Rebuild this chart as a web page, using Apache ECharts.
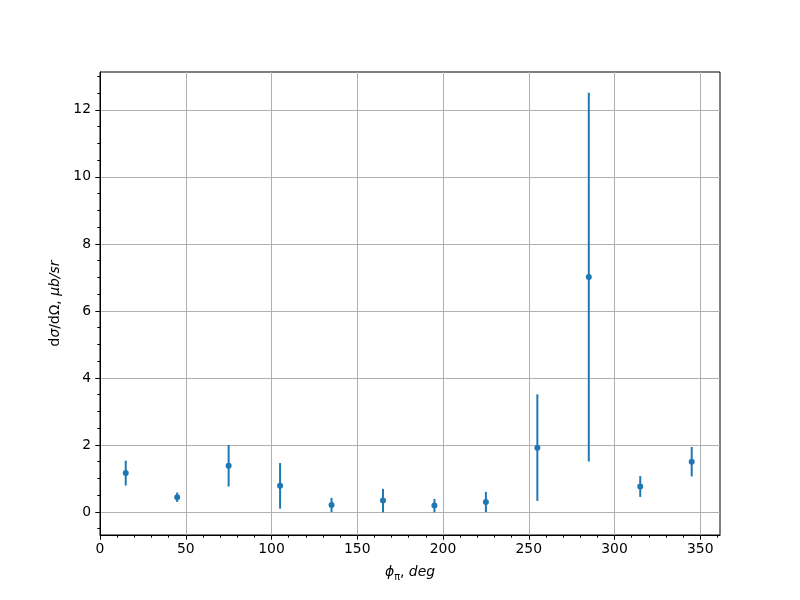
<!DOCTYPE html>
<html>
<head>
<meta charset="utf-8">
<script src="https://cdn.jsdelivr.net/npm/echarts@6/dist/echarts.min.js"></script>
<style>html,body{margin:0;padding:0;background:#fff}#c{width:800px;height:600px}</style>
</head>
<body>
<div id="c"></div>
<script>
// data
const phi = [15, 45, 75, 105, 135, 165, 195, 225, 255, 285, 315, 345];
const xsec = [1.16, 0.44, 1.38, 0.78, 0.21, 0.34, 0.19, 0.30, 1.92, 7.01, 0.76, 1.50];
const xsecErr = [0.37, 0.14, 0.62, 0.68, 0.21, 0.35, 0.20, 0.30, 1.59, 5.50, 0.31, 0.44];
// tick labels
const xTicks = [0, 50, 100, 150, 200, 250, 300, 350];
const yTicks = [0, 2, 4, 6, 8, 10, 12];
const xMinorTicks = [10,20,30,40,60,70,80,90,110,120,130,140,160,170,180,190,210,220,230,240,260,270,280,290,310,320,330,340,360];
const yMinorTicks = [-0.5,0.5,1,1.5,2.5,3,3.5,4.5,5,5.5,6.5,7,7.5,8.5,9,9.5,10.5,11,11.5,12.5,13];

const XMIN = 0, XMAX = 361.5, YMIN = -0.687, YMAX = 13.13;
const FONT = 'DejaVu Sans';
const FS = 13.9;
const BLUE = '#1f77b4';

const chart = echarts.init(document.getElementById('c'), null, {renderer: 'canvas'});
const rows = phi.map((p, i) => [p, xsec[i], xsecErr[i]]);

const baseX = {
  type: 'value', min: XMIN, max: XMAX,
  axisLine: {show: false, onZero: false}, splitLine: {show: false}
};
const baseY = {
  type: 'value', min: YMIN, max: YMAX,
  axisLine: {show: false, onZero: false}, splitLine: {show: false}
};

chart.setOption({
  animation: false,
  backgroundColor: '#fff',
  grid: {left: 100, right: 80, top: 72, bottom: 65, show: true, borderColor: '#000', borderWidth: 1, backgroundColor: 'transparent', containLabel: false},
  xAxis: [
    Object.assign({}, baseX, {
      position: 'bottom',
      axisLine: {show: true, onZero: false, lineStyle: {color: '#000', width: 1}},
      axisTick: {show: true, inside: false, length: 4.7, lineStyle: {color: '#000', width: 1}, customValues: xTicks},
      axisLabel: {show: true, customValues: xTicks, color: '#000', fontFamily: FONT, fontSize: FS, margin: 7},
      splitLine: {show: true, lineStyle: {color: '#b0b0b0', width: 1}},
      name: '{i|ϕ}{s|π}{n|, }{i|deg}',
      nameLocation: 'middle', nameGap: 30,
      nameTextStyle: {
        color: '#000', fontFamily: FONT, fontSize: FS,
        rich: {
          i: {fontStyle: 'italic', fontFamily: FONT, fontSize: FS, color: '#000', verticalAlign: 'bottom'},
          n: {fontFamily: FONT, fontSize: FS, color: '#000', verticalAlign: 'bottom'},
          s: {fontFamily: FONT, fontSize: 9.7, color: '#000', verticalAlign: 'bottom', padding: [0, 0, -3, 0]}
        }
      }
    }),
    Object.assign({}, baseX, {
      position: 'bottom',
      axisLine: {show: false, onZero: false},
      axisTick: {show: true, inside: false, length: 2.7, lineStyle: {color: '#000', width: 1}, customValues: xMinorTicks},
      axisLabel: {show: false}
    })
  ],
  yAxis: [
    Object.assign({}, baseY, {
      position: 'left',
      axisLine: {show: true, onZero: false, lineStyle: {color: '#000', width: 1}},
      axisTick: {show: true, inside: false, length: 4.7, lineStyle: {color: '#000', width: 1}, customValues: yTicks},
      axisLabel: {show: true, customValues: yTicks, color: '#000', fontFamily: FONT, fontSize: FS, margin: 9},
      splitLine: {show: true, lineStyle: {color: '#b0b0b0', width: 1}},
      name: '{n|d}{i|σ}{n|/dΩ, }{i|μb/sr}',
      nameLocation: 'middle', nameGap: 37,
      nameTextStyle: {
        color: '#000', fontFamily: FONT, fontSize: FS,
        rich: {
          i: {fontStyle: 'italic', fontFamily: FONT, fontSize: FS, color: '#000'},
          n: {fontFamily: FONT, fontSize: FS, color: '#000'}
        }
      }
    }),
    Object.assign({}, baseY, {
      position: 'left',
      axisLine: {show: false, onZero: false},
      axisTick: {show: true, inside: false, length: 2.7, lineStyle: {color: '#000', width: 1}, customValues: yMinorTicks},
      axisLabel: {show: false}
    })
  ],
  series: [
    {
      type: 'custom',
      xAxisIndex: 0, yAxisIndex: 0,
      data: rows,
      encode: {x: 0, y: 1},
      clip: true,
      renderItem: function (params, api) {
        const x = api.value(0), y = api.value(1), e = api.value(2);
        const p1 = api.coord([x, y - e]);
        const p2 = api.coord([x, y + e]);
        return {
          type: 'line',
          shape: {x1: p1[0], y1: p1[1], x2: p2[0], y2: p2[1]},
          style: {stroke: BLUE, lineWidth: 2}
        };
      },
      z: 3
    },
    {
      type: 'scatter',
      xAxisIndex: 0, yAxisIndex: 0,
      data: rows.map(r => [r[0], r[1]]),
      symbol: 'circle', symbolSize: 6,
      itemStyle: {color: BLUE, opacity: 1},
      z: 4
    }
  ]
});
</script>
</body>
</html>
